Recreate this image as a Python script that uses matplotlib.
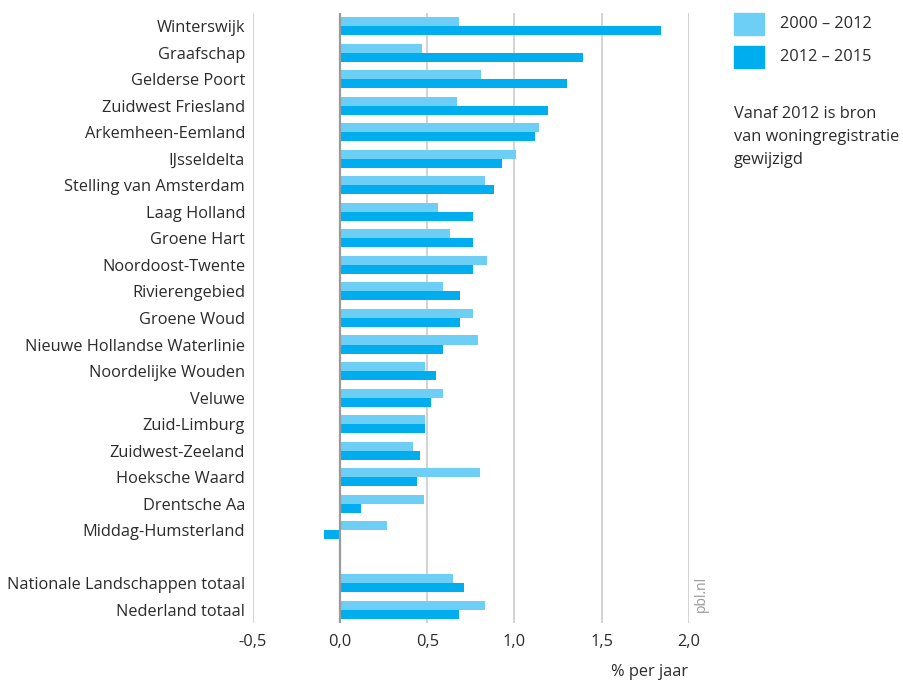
import matplotlib
matplotlib.use("Agg")
import matplotlib.pyplot as plt
import numpy as np

plt.rcParams['font.family'] = ['Open Sans', 'DejaVu Sans']

categories = ["Winterswijk", "Graafschap", "Gelderse Poort", "Zuidwest Friesland",
              "Arkemheen-Eemland", "IJsseldelta", "Stelling van Amsterdam", "Laag Holland",
              "Groene Hart", "Noordoost-Twente", "Rivierengebied", "Groene Woud",
              "Nieuwe Hollandse Waterlinie", "Noordelijke Wouden", "Veluwe", "Zuid-Limburg",
              "Zuidwest-Zeeland", "Hoeksche Waard", "Drentsche Aa", "Middag-Humsterland",
              "", "Nationale Landschappen totaal", "Nederland totaal"]
v2000_2012 = [0.68, 0.47, 0.81, 0.67, 1.14, 1.01, 0.83, 0.56, 0.63, 0.84, 0.59, 0.76,
              0.79, 0.49, 0.59, 0.49, 0.42, 0.80, 0.48, 0.27, np.nan, 0.65, 0.83]
v2012_2015 = [1.84, 1.39, 1.30, 1.19, 1.12, 0.93, 0.88, 0.76, 0.76, 0.76, 0.69, 0.69,
              0.59, 0.55, 0.52, 0.49, 0.46, 0.44, 0.12, -0.09, np.nan, 0.71, 0.68]
series_labels = ["2000 – 2012", "2012 – 2015"]
note_lines = ["Vanaf 2012 is bron", "van woningregistratie", "gewijzigd"]
xticks = [-0.5, 0.0, 0.5, 1.0, 1.5, 2.0]
xticklabels = ["-0,5", "0,0", "0,5", "1,0", "1,5", "2,0"]

c_light = "#6DCFF6"
c_dark = "#00AEEF"
txt = "#2b2b2b"
fs = 11.8

fig = plt.figure(figsize=(9.04, 6.82), dpi=100)
ax = fig.add_axes([0.2795, 0.0865, 0.4827, 0.8945])

y = np.arange(len(categories))
h = 0.34
ax.barh(y - h / 2, v2000_2012, height=h, color=c_light, zorder=3)
ax.barh(y + h / 2, v2012_2015, height=h, color=c_dark, zorder=3)

ax.set_xlim(-0.5, 2.0)
ax.set_ylim(len(categories) - 0.5, -0.5)
for xv in xticks:
    if xv == 0:
        ax.axvline(xv, color="#9a9a9a", lw=1.6, zorder=4)
    else:
        ax.axvline(xv, color="#cccccc", lw=1.2, zorder=1)

ax.set_yticks(y)
ax.set_yticklabels(categories, fontsize=fs, color=txt)
ax.set_xticks(xticks)
ax.set_xticklabels(xticklabels, fontsize=fs, color=txt)
ax.tick_params(axis='y', length=0, pad=5.5)
ax.tick_params(axis='x', length=0, pad=8)
for s in ax.spines.values():
    s.set_visible(False)

fig.text(688 / 904, 1 - 672 / 682, "% per jaar", ha="right", va="center", fontsize=fs, color=txt)
fig.text(701 / 904, 1 - 594 / 682, "pbl.nl", rotation=90, ha="center", va="center",
         fontsize=10, color="#999999")

# legend
for i, (lab, col) in enumerate(zip(series_labels, [c_light, c_dark])):
    yc = 24 + i * 33
    fig.patches.append(plt.Rectangle((734 / 904, 1 - (yc + 11) / 682), 30 / 904, 22 / 682,
                                     transform=fig.transFigure, color=col))
    fig.text(780 / 904, 1 - yc / 682, lab, ha="left", va="center", fontsize=fs, color=txt)

for i, line in enumerate(note_lines):
    fig.text(734 / 904, 1 - (118 + i * 23) / 682, line, ha="left", va="baseline",
             fontsize=fs, color=txt)

fig.savefig("out.png", dpi=100)
